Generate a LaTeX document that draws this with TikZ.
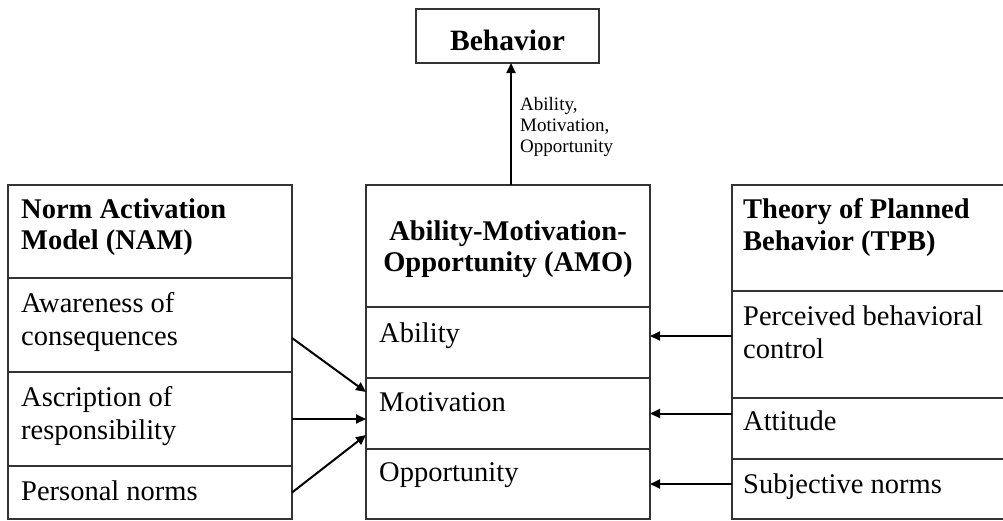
\documentclass[tikz,border=0pt]{standalone}
\usepackage{fontspec}
\setmainfont{Liberation Serif}
\usetikzlibrary{arrows.meta}
\begin{document}
\begin{tikzpicture}[x=1pt,y=-1pt,
  cell/.style={draw=black!80, line width=1.3pt, inner sep=0pt, outer sep=0pt, anchor=north west},
  txt/.style={inner sep=0pt, anchor=north west, align=left, font=\fontsize{28.5}{33}\selectfont},
  ttl/.style={inner sep=0pt, font=\fontsize{28.5}{31.5}\selectfont\bfseries},
  arr/.style={line width=2pt, -{Triangle[length=10pt,width=9pt]}},
  lbl/.style={inner sep=0pt, anchor=north west, align=left, font=\fontsize{19}{21}\selectfont}]
\useasboundingbox (0,0) rectangle (1003,520);
\clip (0,0) rectangle (1003,520);
% NAM column
\node[cell, minimum width=284pt, minimum height=93pt] (namT) at (8,185) {};
\node[cell, minimum width=284pt, minimum height=94pt] (namA) at (8,278) {};
\node[cell, minimum width=284pt, minimum height=94pt] (namB) at (8,372) {};
\node[cell, minimum width=284pt, minimum height=53pt] (namC) at (8,466) {};
% AMO column
\node[cell, minimum width=284pt, minimum height=122pt] (amoT) at (366,185) {};
\node[cell, minimum width=284pt, minimum height=71pt] (amoA) at (366,307) {};
\node[cell, minimum width=284pt, minimum height=71pt] (amoM) at (366,378) {};
\node[cell, minimum width=284pt, minimum height=70pt] (amoO) at (366,449) {};
% TPB column
\node[cell, minimum width=290pt, minimum height=106pt] (tpbT) at (732,185) {};
\node[cell, minimum width=290pt, minimum height=107pt] (tpbA) at (732,291) {};
\node[cell, minimum width=290pt, minimum height=61pt] (tpbB) at (732,398) {};
\node[cell, minimum width=290pt, minimum height=60pt] (tpbC) at (732,459) {};
% Behavior
\node[cell, minimum width=183pt, minimum height=54pt] (beh) at (416,9) {};
\node[ttl, anchor=base, font=\fontsize{29.5}{32}\selectfont\bfseries] (behT) at (507.5,50) {Behavior};
% texts
\node[ttl, anchor=north west, align=left] (namTt) at (21,198.5) {Norm Activation\\Model (NAM)};
\node[txt] (namAt) at (21,292.5) {Awareness of\\consequences};
\node[txt] (namBt) at (21,386) {Ascription of\\responsibility};
\node[txt] (namCt) at (21,480.5) {Personal norms};
\node[ttl, anchor=north, align=center] (amoTt) at (508,220.5) {Ability-Motivation-\\Opportunity (AMO)};
\node[txt] (amoAt) at (379,322.5) {Ability};
\node[txt] (amoMt) at (379,392.5) {Motivation};
\node[txt] (amoOt) at (379,462.5) {Opportunity};
\node[ttl, anchor=north west, align=left] (tpbTt) at (743,198.5) {Theory of Planned\\Behavior (TPB)};
\node[txt] (tpbAt) at (743,305.5) {Perceived behavioral\\control};
\node[txt] (tpbBt) at (743,410.5) {Attitude};
\node[txt] (tpbCt) at (743,473.5) {Subjective norms};
% arrows
\draw[arr] ([xshift=3pt]amoT.north) -- ([xshift=3pt]amoT.north |- beh.south);
\node[lbl] (lab) at (520,97.5) {Ability,\\Motivation,\\Opportunity};
\draw[arr] ([yshift=-13pt]namA.east) -- ([yshift=21.5pt]amoM.west);
\draw[arr] (namB.east) -- (namB.east -| amoM.west);
\draw[arr] (namC.east) -- ([yshift=-21.5pt]amoM.west);
\draw[arr] ([yshift=8.5pt]tpbA.west) -- ([yshift=8.5pt]tpbA.west -| amoA.east);
\draw[arr] (amoM.east -| tpbB.west) -- (amoM.east);
\draw[arr] (amoO.east -| tpbC.west) -- (amoO.east);
\end{tikzpicture}
\end{document}
